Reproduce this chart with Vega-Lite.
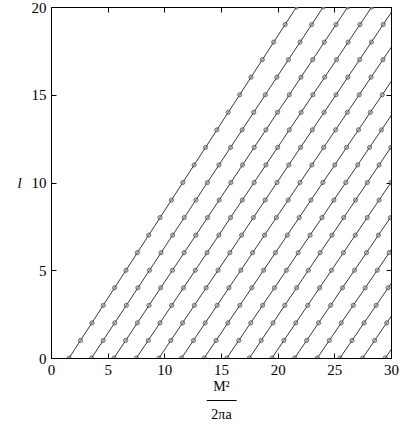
{
  "$schema": "https://vega.github.io/schema/vega-lite/v6.json",
  "autosize": "none",
  "width": 340,
  "height": 351,
  "padding": {"left": 51, "top": 7, "right": 24, "bottom": 75},
  "background": "white",
  "config": {
    "view": {"stroke": "black", "strokeWidth": 1},
    "font": "Liberation Serif"
  },
  "data": {"values": [
    {"n":0,"l":0,"x":1.6},{"n":0,"l":1,"x":2.6},{"n":0,"l":2,"x":3.61},{"n":0,"l":3,"x":4.61},{"n":0,"l":4,"x":5.61},{"n":0,"l":5,"x":6.62},{"n":0,"l":6,"x":7.62},{"n":0,"l":7,"x":8.62},{"n":0,"l":8,"x":9.62},{"n":0,"l":9,"x":10.63},{"n":0,"l":10,"x":11.63},{"n":0,"l":11,"x":12.63},{"n":0,"l":12,"x":13.64},{"n":0,"l":13,"x":14.64},{"n":0,"l":14,"x":15.64},{"n":0,"l":15,"x":16.65},{"n":0,"l":16,"x":17.65},{"n":0,"l":17,"x":18.65},{"n":0,"l":18,"x":19.65},{"n":0,"l":19,"x":20.66},{"n":0,"l":20,"x":21.66},
    {"n":1,"l":0,"x":3.58},{"n":1,"l":1,"x":4.6},{"n":1,"l":2,"x":5.62},{"n":1,"l":3,"x":6.65},{"n":1,"l":4,"x":7.67},{"n":1,"l":5,"x":8.69},{"n":1,"l":6,"x":9.71},{"n":1,"l":7,"x":10.73},{"n":1,"l":8,"x":11.76},{"n":1,"l":9,"x":12.78},{"n":1,"l":10,"x":13.8},{"n":1,"l":11,"x":14.82},{"n":1,"l":12,"x":15.84},{"n":1,"l":13,"x":16.87},{"n":1,"l":14,"x":17.89},{"n":1,"l":15,"x":18.91},{"n":1,"l":16,"x":19.93},{"n":1,"l":17,"x":20.95},{"n":1,"l":18,"x":21.98},{"n":1,"l":19,"x":23.0},{"n":1,"l":20,"x":24.02},
    {"n":2,"l":0,"x":5.56},{"n":2,"l":1,"x":6.59},{"n":2,"l":2,"x":7.62},{"n":2,"l":3,"x":8.65},{"n":2,"l":4,"x":9.68},{"n":2,"l":5,"x":10.72},{"n":2,"l":6,"x":11.75},{"n":2,"l":7,"x":12.78},{"n":2,"l":8,"x":13.81},{"n":2,"l":9,"x":14.84},{"n":2,"l":10,"x":15.87},{"n":2,"l":11,"x":16.9},{"n":2,"l":12,"x":17.93},{"n":2,"l":13,"x":18.96},{"n":2,"l":14,"x":19.99},{"n":2,"l":15,"x":21.03},{"n":2,"l":16,"x":22.06},{"n":2,"l":17,"x":23.09},{"n":2,"l":18,"x":24.12},{"n":2,"l":19,"x":25.15},{"n":2,"l":20,"x":26.18},
    {"n":3,"l":0,"x":7.54},{"n":3,"l":1,"x":8.58},{"n":3,"l":2,"x":9.62},{"n":3,"l":3,"x":10.65},{"n":3,"l":4,"x":11.69},{"n":3,"l":5,"x":12.73},{"n":3,"l":6,"x":13.77},{"n":3,"l":7,"x":14.81},{"n":3,"l":8,"x":15.84},{"n":3,"l":9,"x":16.88},{"n":3,"l":10,"x":17.92},{"n":3,"l":11,"x":18.96},{"n":3,"l":12,"x":20.0},{"n":3,"l":13,"x":21.03},{"n":3,"l":14,"x":22.07},{"n":3,"l":15,"x":23.11},{"n":3,"l":16,"x":24.15},{"n":3,"l":17,"x":25.19},{"n":3,"l":18,"x":26.22},{"n":3,"l":19,"x":27.26},{"n":3,"l":20,"x":28.3},
    {"n":4,"l":0,"x":9.53},{"n":4,"l":1,"x":10.57},{"n":4,"l":2,"x":11.61},{"n":4,"l":3,"x":12.65},{"n":4,"l":4,"x":13.69},{"n":4,"l":5,"x":14.74},{"n":4,"l":6,"x":15.78},{"n":4,"l":7,"x":16.82},{"n":4,"l":8,"x":17.86},{"n":4,"l":9,"x":18.9},{"n":4,"l":10,"x":19.94},{"n":4,"l":11,"x":20.98},{"n":4,"l":12,"x":22.02},{"n":4,"l":13,"x":23.06},{"n":4,"l":14,"x":24.1},{"n":4,"l":15,"x":25.15},{"n":4,"l":16,"x":26.19},{"n":4,"l":17,"x":27.23},{"n":4,"l":18,"x":28.27},{"n":4,"l":19,"x":29.31},{"n":4,"l":20,"x":30.35},
    {"n":5,"l":0,"x":11.52},{"n":5,"l":1,"x":12.57},{"n":5,"l":2,"x":13.61},{"n":5,"l":3,"x":14.66},{"n":5,"l":4,"x":15.7},{"n":5,"l":5,"x":16.75},{"n":5,"l":6,"x":17.79},{"n":5,"l":7,"x":18.84},{"n":5,"l":8,"x":19.88},{"n":5,"l":9,"x":20.93},{"n":5,"l":10,"x":21.97},{"n":5,"l":11,"x":23.02},{"n":5,"l":12,"x":24.06},{"n":5,"l":13,"x":25.11},{"n":5,"l":14,"x":26.15},{"n":5,"l":15,"x":27.2},{"n":5,"l":16,"x":28.24},{"n":5,"l":17,"x":29.29},{"n":5,"l":18,"x":30.33},
    {"n":6,"l":0,"x":13.52},{"n":6,"l":1,"x":14.57},{"n":6,"l":2,"x":15.61},{"n":6,"l":3,"x":16.66},{"n":6,"l":4,"x":17.71},{"n":6,"l":5,"x":18.76},{"n":6,"l":6,"x":19.8},{"n":6,"l":7,"x":20.85},{"n":6,"l":8,"x":21.9},{"n":6,"l":9,"x":22.94},{"n":6,"l":10,"x":23.99},{"n":6,"l":11,"x":25.04},{"n":6,"l":12,"x":26.08},{"n":6,"l":13,"x":27.13},{"n":6,"l":14,"x":28.18},{"n":6,"l":15,"x":29.23},{"n":6,"l":16,"x":30.27},
    {"n":7,"l":0,"x":15.52},{"n":7,"l":1,"x":16.57},{"n":7,"l":2,"x":17.62},{"n":7,"l":3,"x":18.67},{"n":7,"l":4,"x":19.72},{"n":7,"l":5,"x":20.77},{"n":7,"l":6,"x":21.81},{"n":7,"l":7,"x":22.86},{"n":7,"l":8,"x":23.91},{"n":7,"l":9,"x":24.96},{"n":7,"l":10,"x":26.01},{"n":7,"l":11,"x":27.06},{"n":7,"l":12,"x":28.11},{"n":7,"l":13,"x":29.16},{"n":7,"l":14,"x":30.21},
    {"n":8,"l":0,"x":17.51},{"n":8,"l":1,"x":18.55},{"n":8,"l":2,"x":19.59},{"n":8,"l":3,"x":20.63},{"n":8,"l":4,"x":21.67},{"n":8,"l":5,"x":22.71},{"n":8,"l":6,"x":23.75},{"n":8,"l":7,"x":24.79},{"n":8,"l":8,"x":25.83},{"n":8,"l":9,"x":26.87},{"n":8,"l":10,"x":27.91},{"n":8,"l":11,"x":28.95},{"n":8,"l":12,"x":29.99},{"n":8,"l":13,"x":31.03},
    {"n":9,"l":0,"x":19.5},{"n":9,"l":1,"x":20.55},{"n":9,"l":2,"x":21.6},{"n":9,"l":3,"x":22.65},{"n":9,"l":4,"x":23.7},{"n":9,"l":5,"x":24.75},{"n":9,"l":6,"x":25.8},{"n":9,"l":7,"x":26.85},{"n":9,"l":8,"x":27.9},{"n":9,"l":9,"x":28.95},{"n":9,"l":10,"x":30.0},{"n":9,"l":11,"x":31.05},
    {"n":10,"l":0,"x":21.5},{"n":10,"l":1,"x":22.56},{"n":10,"l":2,"x":23.61},{"n":10,"l":3,"x":24.67},{"n":10,"l":4,"x":25.72},{"n":10,"l":5,"x":26.78},{"n":10,"l":6,"x":27.84},{"n":10,"l":7,"x":28.89},{"n":10,"l":8,"x":29.95},{"n":10,"l":9,"x":31.0},
    {"n":11,"l":0,"x":23.5},{"n":11,"l":1,"x":24.56},{"n":11,"l":2,"x":25.61},{"n":11,"l":3,"x":26.67},{"n":11,"l":4,"x":27.73},{"n":11,"l":5,"x":28.79},{"n":11,"l":6,"x":29.84},{"n":11,"l":7,"x":30.9},
    {"n":12,"l":0,"x":25.5},{"n":12,"l":1,"x":26.56},{"n":12,"l":2,"x":27.62},{"n":12,"l":3,"x":28.69},{"n":12,"l":4,"x":29.75},{"n":12,"l":5,"x":30.81},
    {"n":13,"l":0,"x":27.5},{"n":13,"l":1,"x":28.56},{"n":13,"l":2,"x":29.62},{"n":13,"l":3,"x":30.68},
    {"n":14,"l":0,"x":29.5},{"n":14,"l":1,"x":30.56}
  ]},
  "encoding": {
    "x": {"field": "x", "type": "quantitative", "scale": {"domain": [0, 30], "nice": false, "zero": false}},
    "y": {"field": "l", "type": "quantitative", "scale": {"domain": [0, 20], "nice": false}}
  },
  "layer": [
    {
      "mark": {"type": "line", "clip": true, "stroke": "#222222", "strokeWidth": 0.9},
      "encoding": {
        "detail": {"field": "n", "type": "nominal"},
        "order": {"field": "l", "type": "quantitative"},
        "x": {"field": "x", "type": "quantitative", "axis": {"orient": "bottom", "values": [0,5,10,15,20,25,30], "tickSize": -5, "tickColor": "black", "domainColor": "black", "grid": false, "labelFont": "Liberation Serif", "labelFontSize": 15, "labelColor": "black", "labelPadding": 9, "labelFlush": false, "title": ["M²", "───", "2πa"], "titleFont": "Liberation Serif", "titleFontSize": 14, "titleFontWeight": "normal", "titleColor": "black", "titleLineHeight": 14, "titlePadding": 2}},
        "y": {"field": "l", "type": "quantitative", "axis": {"orient": "left", "values": [0,5,10,15,20], "tickSize": -5, "tickColor": "black", "domainColor": "black", "grid": false, "labelFont": "Liberation Serif", "labelFontSize": 15, "labelColor": "black", "labelPadding": 10, "labelFlush": false, "title": "l", "titleAngle": 0, "titleFont": "Liberation Serif", "titleFontStyle": "italic", "titleFontSize": 15, "titleFontWeight": "normal", "titleColor": "black", "titleBaseline": "middle", "titlePadding": 12}}
      }
    },
    {
      "mark": {"type": "point", "clip": true, "shape": "circle", "filled": true, "fill": "#a0a0a0", "stroke": "#222222", "strokeWidth": 0.8, "size": 18},
      "encoding": {
        "x": {"field": "x", "type": "quantitative", "axis": {"orient": "top", "values": [0,5,10,15,20,25,30], "tickSize": -5, "tickColor": "black", "domainColor": "black", "labels": false, "title": null, "grid": false}},
        "y": {"field": "l", "type": "quantitative", "axis": {"orient": "right", "values": [0,5,10,15,20], "tickSize": -5, "tickColor": "black", "domainColor": "black", "labels": false, "title": null, "grid": false}}
      }
    }
  ],
  "resolve": {"axis": {"x": "independent", "y": "independent"}}
}
